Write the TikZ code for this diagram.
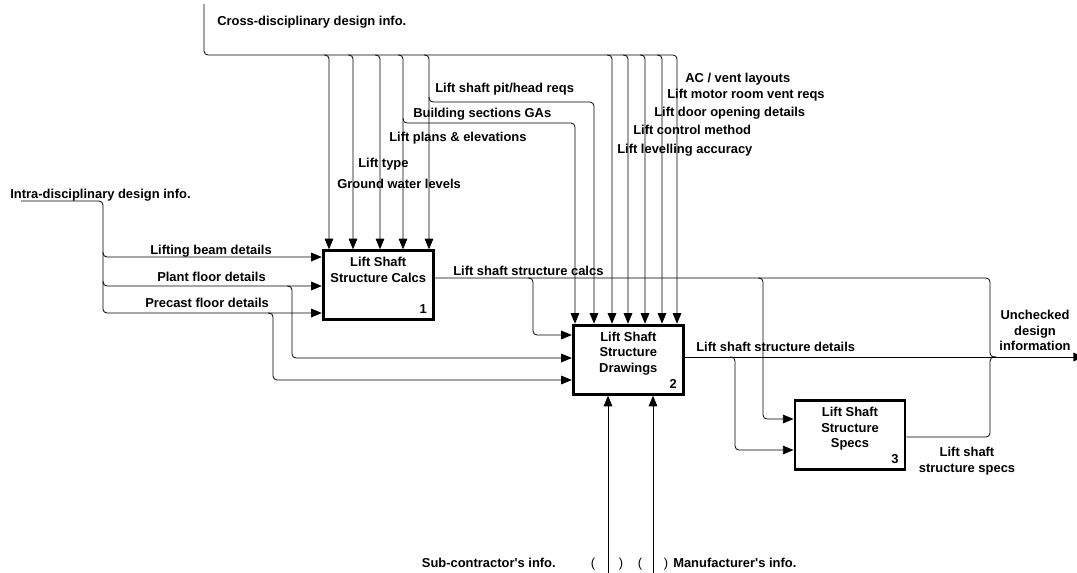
\documentclass[tikz,border=0pt]{standalone}
\usepackage{fontspec}
\setmainfont{Liberation Sans}
\usetikzlibrary{arrows.meta,calc}
\begin{document}
\begin{tikzpicture}[x=0.75pt,y=-0.75pt,
  every node/.style={font=\fontsize{9.7}{11.6}\selectfont\bfseries, inner sep=0pt},
  lbl/.style={anchor=base west},
  lble/.style={anchor=base east},
  paren/.style={anchor=base, font=\fontsize{9.7}{11.6}\selectfont},
  ml/.style={align=center, anchor=north},
  ln/.style={line width=0.6pt, rounded corners=3pt},
  arr/.style={ln, -{Triangle[length=8pt,width=6.5pt]}},
  box/.style={draw, line width=2.2pt, minimum width=82.5pt, minimum height=51.75pt},
  boxtxt/.style={align=center, anchor=north},
  num/.style={anchor=center}]
\useasboundingbox (0,0) rectangle (1077,572);

% activity boxes
\node[box] (b1) at (378.25,285.25) {};
\node[boxtxt] (t1) at ($(b1.north)+(0,7.7)$) {Lift Shaft\\Structure Calcs};
\node[num] (n1) at ($(b1.south east)+(-11.5,-12)$) {1};
\node[box] (b2) at (628.3,359.7) {};
\node[boxtxt] (t2) at ($(b2.north)+(0,7.7)$) {Lift Shaft\\Structure\\Drawings};
\node[num] (n2) at ($(b2.south east)+(-11.5,-12)$) {2};
\node[box] (b3) at (850,435.2) {};
\node[boxtxt] (t3) at ($(b3.north)+(0,7.7)$) {Lift Shaft\\Structure\\Specs};
\node[num] (n3) at ($(b3.south east)+(-11.5,-12)$) {3};

% free ends
\coordinate (cross) at (204,4);
\coordinate (intra) at (21,201);
\coordinate (sub) at (608,576);
\coordinate (man) at (653,576);
\coordinate (out) at (1084,357);

% cross-disciplinary controls
\draw[arr] (cross) |- (677,55) -- (b2.north -| 677,0);
\foreach \x in {329,353,380,403,429}
  \draw[arr] (\x-5,55) -- (\x,55) -- (b1.north -| \x,0);
\draw[arr] (403,118) -- (403,123) -| (b2.north -| 575,0);
\draw[arr] (429,97) -- (429,102) -| (b2.north -| 594,0);
\foreach \x in {612,628,645,662}
  \draw[arr] (\x-5,55) -- (\x,55) -- (b2.north -| \x,0);

% intra-disciplinary inputs
\draw[arr] (intra) -| (103,313) -- (b1.west |- 0,313);
\draw[arr] (103,252) -- (103,257) -- (b1.west |- 0,257);
\draw[arr] (103,281) -- (103,286) -- (b1.west |- 0,286);
\draw[arr] (287,286) -- (292,286) |- (b2.west |- 0,358);
\draw[arr] (268,313) -- (273,313) |- (b2.west |- 0,380);

% calcs output
\draw[ln] (b1.east |- 0,278) -- (990,278) -- (990,357) -- (996,357);
\draw[arr] (528,278) -- (533,278) |- (b2.west |- 0,335);
\draw[arr] (758,278) -- (763,278) |- (b3.west |- 0,419);

% details output
\draw[arr] (b2.east |- 0,357) -- (out);
\draw[arr] (730,357) -- (735,357) |- (b3.west |- 0,450);

% specs output
\draw[ln] (b3.east |- 0,437) -- (990,437) -- (990,357) -- (996,357);

% mechanisms
\draw[arr] (sub) -- (b2.south -| sub);
\draw[arr] (man) -- (b2.south -| man);

% labels
\node[lbl] (lcross) at (217,25.5) {Cross-disciplinary design info.};
\node[lbl] (lpit) at (435,92.5) {Lift shaft pit/head reqs};
\node[lbl] (lbld) at (413,117.5) {Building sections GAs};
\node[lbl] (lplan) at (389,141.5) {Lift plans \& elevations};
\node[lbl] (ltype) at (358,167.5) {Lift type};
\node[lbl] (lgw) at (337,188.5) {Ground water levels};
\node[lbl] (lac) at (685,82.5) {AC / vent layouts};
\node[lbl] (lmr) at (667,98.5) {Lift motor room vent reqs};
\node[lbl] (ldoor) at (654,116.5) {Lift door opening details};
\node[lbl] (lctl) at (633,134.5) {Lift control method};
\node[lbl] (llev) at (617,153.5) {Lift levelling accuracy};
\node[lbl] (lintra) at (10,198.5) {Intra-disciplinary design info.};
\node[lbl] (lbeam) at (150,254.5) {Lifting beam details};
\node[lbl] (lplant) at (157,281.5) {Plant floor details};
\node[lbl] (lpre) at (145,307.5) {Precast floor details};
\node[lbl] (lcalc) at (453,275.5) {Lift shaft structure calcs};
\node[lbl] (ldet) at (696,351.5) {Lift shaft structure details};
\node[ml] (lunc) at (1035,310) {Unchecked\\design\\information};
\node[ml] (lspec) at (967,447) {Lift shaft\\structure specs};
\node[lble] (lsub) at (556,567.5) {Sub-contractor\textquotesingle s info.};
\node[paren] (p1) at (593,567.5) {(};
\node[paren] (p2) at (621,567.5) {)};
\node[paren] (p3) at (640,567.5) {(};
\node[paren] (p4) at (666,567.5) {)};
\node[lbl] (lman) at (673,567.5) {Manufacturer\textquotesingle s info.};
\end{tikzpicture}
\end{document}
